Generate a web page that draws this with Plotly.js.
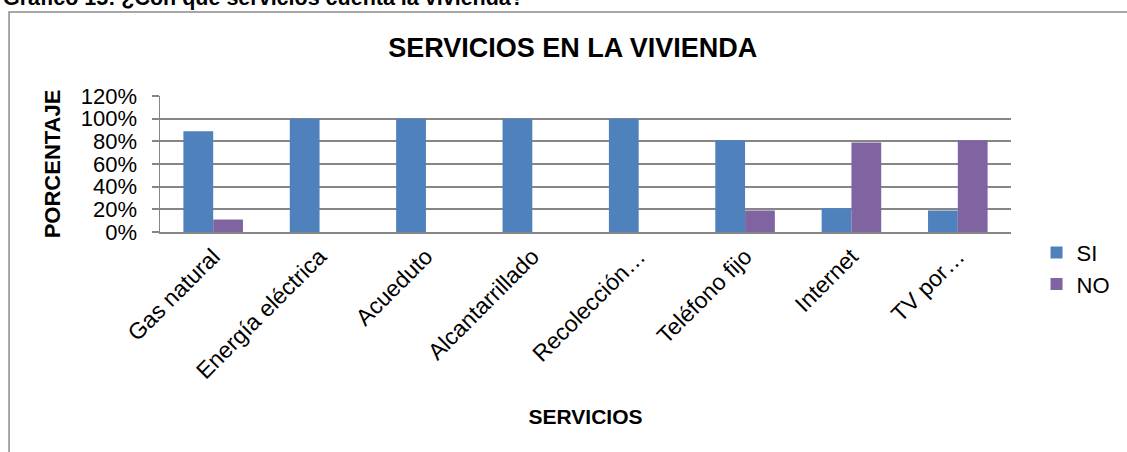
<!DOCTYPE html>
<html>
<head>
<meta charset="utf-8">
<script src="https://cdn.plot.ly/plotly-3.0.1.min.js"></script>
<style>html,body{margin:0;padding:0;background:#fff;}#chart{width:1127px;height:452px;}</style>
</head>
<body>
<div id="chart"></div>
<script>
const categories = ["Gas natural", "Energía eléctrica", "Acueduto", "Alcantarrillado", "Recolección…", "Teléfono fijo", "Internet", "TV por…"];
const siValues = [0.89, 1.00, 1.00, 1.00, 1.00, 0.81, 0.21, 0.19];
const noValues = [0.11, 0, 0, 0, 0, 0.19, 0.79, 0.81];
const yTickVals = [0, 0.2, 0.4, 0.6, 0.8, 1.0, 1.2];
const yTickText = ["0%", "20%", "40%", "60%", "80%", "100%", "120%"];

const font = "Liberation Sans, Arial, sans-serif";
const grid = "#868686";

const traces = [
  {type: "bar", name: "SI", x: categories, y: siValues,
   marker: {color: "#4F81BD", line: {width: 0}}},
  {type: "bar", name: "NO", x: categories, y: noValues,
   marker: {color: "#8064A2", line: {width: 0}}}
];

const layout = {
  width: 1127, height: 452,
  margin: {l: 160, r: 110, t: 96, b: 220},
  paper_bgcolor: "#fff", plot_bgcolor: "#fff",
  font: {family: font, color: "#000"},
  barmode: "group", bargap: 0.44, bargroupgap: 0,
  showlegend: true,
  title: {text: "<b>SERVICIOS EN LA VIVIENDA</b>", font: {family: font, size: 27, color: "#000"},
          xref: "paper", x: 0.485, xanchor: "center", yref: "container", y: 1 - 48/452, yanchor: "middle"},
  legend: {x: 1.03, xanchor: "left", y: -0.27, yanchor: "middle", font: {family: font, size: 22},
           bgcolor: "rgba(0,0,0,0)", tracegroupgap: 0},
  xaxis: {type: "category", tickangle: -45, tickfont: {family: font, size: 23},
          showgrid: false, showline: true, linecolor: grid, linewidth: 2, ticks: "",
          title: {text: "<b>SERVICIOS</b>", font: {family: font, size: 21}, standoff: 26},
          automargin: false},
  yaxis: {range: [0, 1.2], tickvals: yTickVals, ticktext: yTickText,
          tickfont: {family: font, size: 22}, showgrid: true, gridcolor: grid, gridwidth: 2,
          zeroline: false, showline: true, linecolor: grid, linewidth: 1.5,
          ticks: "outside", ticklen: 7, tickcolor: grid, tickwidth: 2, ticklabelstandoff: 10,
          title: {text: "<b>PORCENTAJE</b>", font: {family: font, size: 22}, standoff: 14},
          automargin: false},
  shapes: [{type: "rect", xref: "paper", yref: "paper",
            x0: (8-160)/857, x1: 1.3, y0: (232-470)/136, y1: (232-12)/136,
            line: {color: "#8a8a8a", width: 1.5}, fillcolor: "rgba(0,0,0,0)", layer: "below"}],
  annotations: [{text: "<b>Gráfico 15: ¿Con qué servicios cuenta la vivienda?</b>", xref: "paper", yref: "paper",
                 x: (0-160)/857, xanchor: "left", y: (232-12)/136, yanchor: "bottom", showarrow: false,
                 font: {family: font, size: 21.5, color: "#000"}}]
};

Plotly.newPlot("chart", traces, layout, {displayModeBar: false, staticPlot: true});
</script>
</body>
</html>
